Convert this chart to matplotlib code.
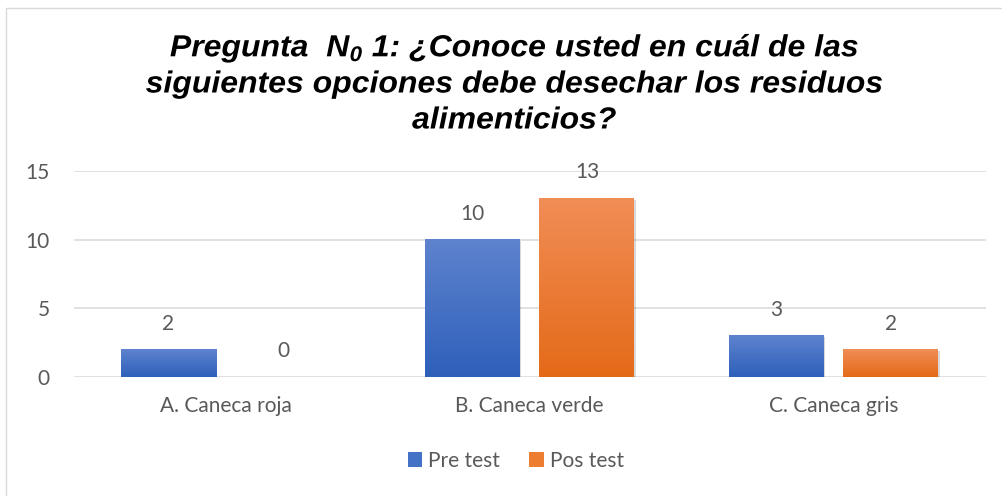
import matplotlib
matplotlib.use("Agg")
import matplotlib.pyplot as plt
import matplotlib.patheffects as pe
from matplotlib.patches import Rectangle, Patch, PathPatch
from matplotlib.textpath import TextPath
from matplotlib.font_manager import FontProperties
from matplotlib.transforms import Affine2D
import numpy as np

categories = ["A. Caneca roja", "B. Caneca verde", "C. Caneca gris"]
series_names = ["Pre test", "Pos test"]
pre_test = [2, 10, 3]
pos_test = [0, 13, 2]
y_ticks = [0, 5, 10, 15]
title_lines = ["Pregunta  N$_{0}$ 1: ¿Conoce usted en cuál de las",
               "siguientes opciones debe desechar los residuos",
               "alimenticios?"]

plt.rcParams['mathtext.fontset'] = 'custom'
plt.rcParams['mathtext.rm'] = 'Liberation Sans:bold:italic'
plt.rcParams['mathtext.it'] = 'Liberation Sans:bold:italic'
plt.rcParams['mathtext.bf'] = 'Liberation Sans:bold:italic'

W, H = 1002, 496
fig = plt.figure(figsize=(W / 100, H / 100), dpi=100)
fig.patch.set_facecolor("white")

# chart border (extends beyond image on right/bottom)
fig.add_artist(Rectangle((5.5 / W, -0.1), 1.2, 1 - 7.5 / H + 0.1,
                         transform=fig.transFigure, fill=False,
                         edgecolor="#D9D9D9", lw=1.0))

ax = fig.add_axes([73.5 / W, 1 - 377 / H, 912 / W, 206 / H])
ax.set_xlim(-0.5, 2.5)
ax.set_ylim(0, 15)
for s in ax.spines.values():
    s.set_visible(False)
for t in y_ticks:
    ax.axhline(t, color="#D9D9D9", lw=1.1, zorder=0)

label_font = "Lato"
gray = "#595959"
ax.set_yticks(y_ticks)
ax.set_yticklabels([str(t) for t in y_ticks], fontsize=15, color=gray, family=label_font)
x = np.arange(len(categories))
ax.set_xticks(x)
ax.set_xticklabels(categories, fontsize=15, color=gray, family=label_font)
ax.tick_params(axis="y", length=0, pad=17)
ax.tick_params(axis="x", length=0, pad=14)

width = 0.3125
offset = 0.189
grads = [((94, 131, 206), (46, 96, 186)), ((241, 141, 86), (228, 106, 24))]
solid = ["#4472C4", "#ED7D31"]

for si, vals in enumerate([pre_test, pos_test]):
    xs = x + (-offset if si == 0 else offset)
    bars = ax.bar(xs, vals, width=width, color=solid[si], zorder=2,
                  path_effects=[pe.SimplePatchShadow(offset=(1.2, -1.2), shadow_rgbFace="k", alpha=0.15),
                                pe.Normal()])
    top, bot = np.array(grads[si][0]) / 255, np.array(grads[si][1]) / 255
    tt = np.linspace(0, 1, 100)[:, None]
    grad = (bot[None, :] * (1 - tt) + top[None, :] * tt)[:, None, :]
    for b, v in zip(bars, vals):
        if v > 0:
            ax.imshow(grad, extent=[b.get_x(), b.get_x() + width, 0, v],
                      origin="lower", aspect="auto", zorder=3, interpolation="bilinear")
        ax.annotate(str(v), (b.get_x() + width / 2, v), xytext=(0, 18.7),
                    textcoords="offset points", ha="center", va="center",
                    fontsize=15, color=gray, family=label_font)

ax.set_xlim(-0.5, 2.5)
ax.set_ylim(0, 15)

handles = [Patch(facecolor=solid[0]), Patch(facecolor=solid[1])]
fig.legend(handles, series_names, loc="center", bbox_to_anchor=(516 / W, 1 - 461 / H),
           ncol=2, frameon=False, prop={"family": label_font, "size": 15},
           labelcolor=gray, handlelength=0.7, handleheight=0.7, handletextpad=0.3,
           columnspacing=1.4)

# Title
tprop = FontProperties(family="Liberation Sans", weight="bold", style="italic")
font_px = 30.5
paths = [TextPath((0, 0), line, size=font_px, prop=tprop) for line in title_lines]
ref_w = paths[1].get_extents().width
sx = 736.0 / ref_w
baselines = [56.5, 92.5, 128.5]
cx = 514.0
for p, yb in zip(paths, baselines):
    ext = p.get_extents()
    wline = ext.width * sx
    x0 = cx - wline / 2 - ext.x0 * sx
    tr = Affine2D().scale(sx, 1.0).translate(x0, H - yb).scale(1.0 / W, 1.0 / H) + fig.transFigure
    fig.add_artist(PathPatch(p, transform=tr, facecolor="black", edgecolor="none", lw=0))

fig.savefig("out.png", dpi=100)
